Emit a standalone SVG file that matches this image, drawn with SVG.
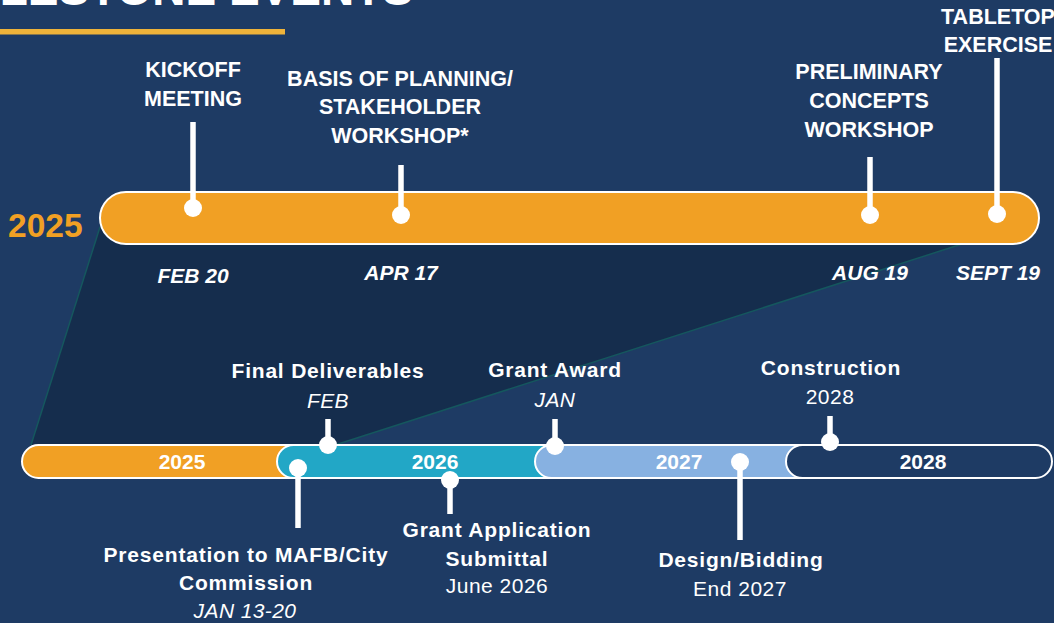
<svg xmlns="http://www.w3.org/2000/svg" width="1054" height="623" viewBox="0 0 1054 623">
<style>
.cap{font-family:"Liberation Sans",Arial,sans-serif;font-weight:bold;font-size:21.5px;fill:#fff;text-anchor:middle}
.date{font-family:"Liberation Sans",Arial,sans-serif;font-weight:bold;font-style:italic;font-size:21px;fill:#fff;text-anchor:middle}
.lbl{font-family:"Liberation Sans",Arial,sans-serif;font-weight:bold;font-size:21px;fill:#fff;text-anchor:middle;letter-spacing:0.8px}
.sub{font-family:"Liberation Sans",Arial,sans-serif;font-size:21px;fill:#fff;text-anchor:middle;letter-spacing:0.5px}
.subi{font-family:"Liberation Sans",Arial,sans-serif;font-style:italic;font-size:21px;fill:#fff;text-anchor:middle;letter-spacing:0.4px}
.yr{font-family:"Liberation Sans",Arial,sans-serif;font-weight:bold;font-size:21px;fill:#fff;text-anchor:middle}
.stem{stroke:#fff;stroke-width:5.5;fill:none}
.dot{fill:#fff}
.bar{stroke:#fff;stroke-width:2}
</style>
<rect width="1054" height="623" fill="#1e3b64"/>
<text x="413" y="5" font-family="Liberation Sans,Arial,sans-serif" font-weight="bold" font-size="46" fill="#fff" text-anchor="end">MILESTONE EVENTS</text>
<rect x="0" y="29" width="285" height="5.5" fill="#efb33a"/>
<polygon points="100,227 962,244 335,445 31,445" fill="#152d4d"/>
<line x1="100" y1="227" x2="31" y2="445" stroke="#15575e" stroke-width="1.5"/>
<line x1="962" y1="244" x2="335" y2="445" stroke="#15575e" stroke-width="1.5"/>
<text x="8" y="237" font-family="Liberation Sans,Arial,sans-serif" font-weight="bold" font-size="33.5" fill="#f1a024">2025</text>
<g id="top-bar">
<rect class="bar" x="100" y="192" width="939" height="52" rx="26" fill="#f1a024"/>
</g>
<g id="connectors">
<line class="stem" x1="193" y1="122" x2="193" y2="208"/>
<line class="stem" x1="401" y1="165" x2="401" y2="215"/>
<line class="stem" x1="870" y1="157" x2="870" y2="215"/>
<line class="stem" x1="997" y1="58" x2="997" y2="214"/>
<line class="stem" x1="328" y1="419" x2="328" y2="445"/>
<line class="stem" x1="555" y1="419" x2="555" y2="446"/>
<line class="stem" x1="830" y1="416" x2="830" y2="442"/>
</g>
<g id="kickoff">
<text class="cap" x="193" y="77">KICKOFF</text>
<text class="cap" x="193" y="106">MEETING</text>
<circle class="dot" cx="193" cy="208" r="9"/>
<text class="date" x="193" y="283">FEB 20</text>
</g>
<g id="basis">
<text class="cap" x="400" y="86">BASIS OF PLANNING/</text>
<text class="cap" x="400" y="114">STAKEHOLDER</text>
<text class="cap" x="400" y="143">WORKSHOP*</text>
<circle class="dot" cx="401" cy="215" r="9"/>
<text class="date" x="401" y="280">APR 17</text>
</g>
<g id="preliminary">
<text class="cap" x="869" y="79">PRELIMINARY</text>
<text class="cap" x="869" y="108">CONCEPTS</text>
<text class="cap" x="869" y="137">WORKSHOP</text>
<circle class="dot" cx="870" cy="215" r="9"/>
<text class="date" x="870" y="280">AUG 19</text>
</g>
<g id="tabletop">
<text class="cap" x="998" y="24">TABLETOP</text>
<text class="cap" x="998" y="52">EXERCISE</text>
<circle class="dot" cx="997" cy="214" r="9"/>
<text class="date" x="998" y="280">SEPT 19</text>
</g>
<g id="bar-2025">
<rect class="bar" x="22" y="445" width="310" height="33" rx="16.5" fill="#f1a024"/>
<text class="yr" x="182" y="469">2025</text>
</g>
<g id="bar-2026">
<rect class="bar" x="277" y="445" width="300" height="33" rx="16.5" fill="#22a7c6"/>
<text class="yr" x="435" y="469">2026</text>
</g>
<g id="bar-2027">
<rect class="bar" x="535" y="445" width="290" height="33" rx="16.5" fill="#87b1e1"/>
<text class="yr" x="679" y="469">2027</text>
</g>
<g id="bar-2028">
<rect class="bar" x="786" y="445" width="266" height="33" rx="16.5" fill="#1e3b64"/>
<text class="yr" x="923" y="469">2028</text>
</g>
<g id="connectors-bottom">
<line class="stem" x1="298" y1="468" x2="298" y2="528"/>
<line class="stem" x1="450" y1="480" x2="450" y2="514"/>
<line class="stem" x1="740" y1="462" x2="740" y2="540"/>
</g>
<g id="final-deliverables">
<text class="lbl" x="328" y="378">Final Deliverables</text>
<text class="subi" x="328" y="408">FEB</text>
<circle class="dot" cx="328" cy="445" r="9"/>
</g>
<g id="grant-award">
<text class="lbl" x="555" y="377">Grant Award</text>
<text class="subi" x="555" y="407">JAN</text>
<circle class="dot" cx="555" cy="446" r="9"/>
</g>
<g id="construction">
<text class="lbl" x="831" y="375">Construction</text>
<text class="sub" x="830" y="404">2028</text>
<circle class="dot" cx="830" cy="442" r="9"/>
</g>
<g id="presentation">
<circle class="dot" cx="298" cy="468" r="9"/>
<text class="lbl" x="246" y="562">Presentation to MAFB/City</text>
<text class="lbl" x="246" y="590">Commission</text>
<text class="subi" x="245" y="618">JAN 13-20</text>
</g>
<g id="grant-application">
<circle class="dot" cx="450" cy="480" r="9"/>
<text class="lbl" x="497" y="537">Grant Application</text>
<text class="lbl" x="497" y="566">Submittal</text>
<text class="sub" x="497" y="593">June 2026</text>
</g>
<g id="design-bidding">
<circle class="dot" cx="740" cy="462" r="9"/>
<text class="lbl" x="741" y="567">Design/Bidding</text>
<text class="sub" x="740" y="596">End 2027</text>
</g>
</svg>
